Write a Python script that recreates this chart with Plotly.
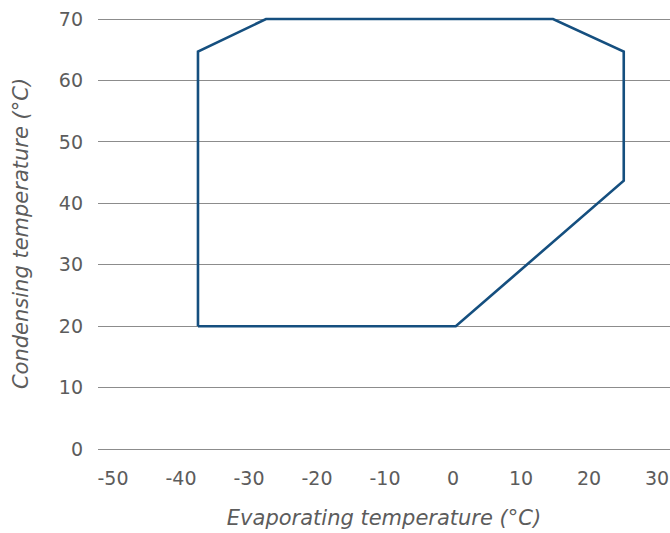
import plotly.graph_objects as go

# Envelope polygon (evaporating temp, condensing temp)
evap = [-37.5, -37.5, -27.5, 14.7, 25.1, 25.1, 0.4, -37.5]
cond = [20, 64.7, 70, 70, 64.7, 43.7, 20, 20]

x_ticks = [-50, -40, -30, -20, -10, 0, 10, 20, 30]
x_tick_labels = ["-50", "-40", "-30", "-20", "-10", "0", "10", "20", "30"]
y_ticks = [0, 10, 20, 30, 40, 50, 60, 70]

font_family = "DejaVu Sans, sans-serif"
text_color = "#5c5c5c"
grid_color = "#8c8c8c"

fig = go.Figure()
fig.add_trace(go.Scatter(
    x=evap, y=cond, mode="lines",
    line=dict(color="#154f7f", width=2.6),
    hoverinfo="skip", showlegend=False,
))

fig.update_layout(
    width=670, height=533,
    margin=dict(l=98, r=0, t=16, b=82),
    paper_bgcolor="white", plot_bgcolor="white",
    font=dict(family=font_family, color=text_color, size=19),
    xaxis=dict(
        range=[-52.2, 31.9], tickvals=x_ticks, ticktext=x_tick_labels,
        showgrid=False, zeroline=False, showline=False,
        ticks="", tickfont=dict(size=19, color=text_color),
        ticklabelstandoff=14, ticklabeloverflow="allow",
        title=dict(text="<i>Evaporating temperature (°C)</i>",
                   font=dict(size=21, color=text_color), standoff=22),
    ),
    yaxis=dict(
        range=[-0.3, 70.5], tickvals=y_ticks,
        showgrid=True, gridcolor=grid_color, gridwidth=1.2,
        zeroline=False, showline=False,
        ticks="", tickfont=dict(size=19, color=text_color),
        ticklabelstandoff=14, ticklabeloverflow="allow",
        title=dict(text="<i>Condensing temperature (°C)</i>",
                   font=dict(size=21, color=text_color), standoff=24),
    ),
)

fig.write_html("out.html",
               config={"displayModeBar": False},
               post_script="document.body.style.margin='0';document.body.style.overflow='hidden';")
